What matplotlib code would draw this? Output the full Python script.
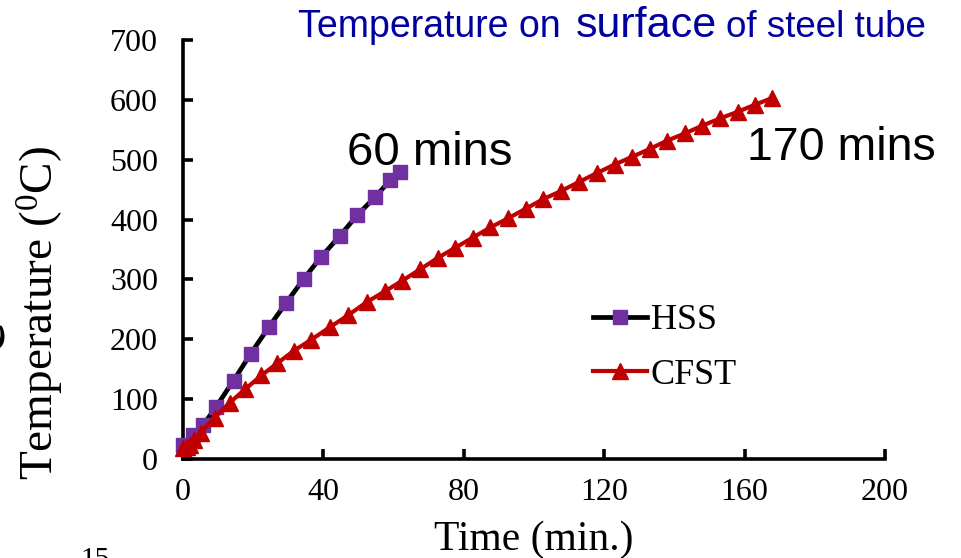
import matplotlib
matplotlib.use("Agg")
import matplotlib.pyplot as plt

# ---------------- data ----------------
hss_time = [0, 2.9, 5.8, 9.4, 14.4, 19.3, 24.4, 29.4, 34.4, 39.4, 44.7, 49.6, 54.6, 59.1, 61.8]
hss_temp = [23, 40, 57, 87, 131, 176, 220, 261, 301, 338, 373, 407, 437, 466, 480]

cfst_time = [0, 1, 2, 3, 5, 9, 13.3, 17.8, 22.3, 26.9, 31.6, 36.6, 41.8, 47, 52.3, 57.5,
             62.5, 67.6, 72.6, 77.6, 82.6, 87.6, 92.6, 97.6, 102.6, 107.8, 112.9, 118,
             123, 128, 133, 138, 143, 148, 153, 158, 163, 167.8]
cfst_temp = [18, 20, 24, 31, 44, 69, 94, 117, 139.5, 160, 181, 199.5, 220, 240, 262, 280,
             298, 317, 336, 353, 370, 387, 402, 418, 434, 448, 463, 478,
             492, 505, 518, 532, 544, 557, 569, 580, 592, 603]

x_ticks = [0, 40, 80, 120, 160, 200]
y_ticks = [0, 100, 200, 300, 400, 500, 600, 700]
series_labels = ["HSS", "CFST"]

# ---------------- figure ----------------
W, H = 961, 558
plt.rcParams['mathtext.fontset'] = 'stix'
serif = ['Liberation Serif', 'DejaVu Serif']
sans = ['Liberation Sans', 'DejaVu Sans']

fig = plt.figure(figsize=(W / 100, H / 100), dpi=100)
ax = fig.add_axes([183 / W, 99 / H, 702 / W, 419 / H])

ax.plot(hss_time, hss_temp, color='black', lw=3.4, marker='s', ms=10.5,
        mfc='#7030A0', mec='#7030A0', label=series_labels[0], clip_on=False, zorder=3)
ax.plot(cfst_time, cfst_temp, color='#C00000', lw=3.0, marker='^', ms=11,
        mfc='#C00000', mec='#C00000', label=series_labels[1], clip_on=False, zorder=4)

ax.set_xlim(0, 200)
ax.set_ylim(0, 700)
ax.set_xticks(x_ticks)
ax.set_yticks(y_ticks)
ax.set_xticklabels([str(v) for v in x_ticks], fontfamily=serif, fontsize=23)
ax.set_yticklabels([str(v) for v in y_ticks], fontfamily=serif, fontsize=23)

for s in ['top', 'right']:
    ax.spines[s].set_visible(False)
for s in ['left', 'bottom']:
    ax.spines[s].set_linewidth(2.6)
    ax.spines[s].set_color('black')
ax.tick_params(axis='both', direction='in', length=7, width=2.6, color='black')
ax.tick_params(axis='y', pad=18)
ax.tick_params(axis='x', pad=14)

# axis labels
fig.text(41 / W, 1 - 313 / H, r'Temperature ($\mathregular{^0}$C)', rotation=90,
         ha='center', va='center', fontsize=34, fontfamily=serif)
fig.text(534 / W, 1 - 550 / H, 'Time (min.)', ha='center', va='baseline',
         fontsize=30, fontfamily=serif)

# title (mixed sizes)
title_color = '#0000A0'
fig.text(298 / W, 1 - 36.7 / H, 'Temperature on', ha='left', va='baseline',
         fontsize=27, fontfamily=sans, color=title_color)
fig.text(576 / W, 1 - 36.7 / H, 'surface', ha='left', va='baseline',
         fontsize=31, fontfamily=sans, color=title_color)
fig.text(726 / W, 1 - 36.7 / H, 'of steel tube', ha='left', va='baseline',
         fontsize=26.5, fontfamily=sans, color=title_color)

# annotations
fig.text(347 / W, 1 - 165 / H, '60 mins', ha='left', va='baseline',
         fontsize=34, fontfamily=sans, color='black')
fig.text(747 / W, 1 - 160 / H, '170 mins', ha='left', va='baseline',
         fontsize=33.5, fontfamily=sans, color='black')

# cropped fragments from the source slide
fig.text(17 / W, 1 - 335 / H, 'e', rotation=90, ha='right', va='center',
         fontsize=52, fontfamily=serif, color='black')
fig.text(80 / W, 1 - 567 / H, '15', ha='left', va='baseline',
         fontsize=21, fontfamily=serif, color='black')

# legend
leg = fig.legend(loc='center left', bbox_to_anchor=(593 / W, 1 - 348 / H),
                 frameon=False, numpoints=1, handlelength=1.5, handletextpad=0.1,
                 labelspacing=0.6, borderpad=0, borderaxespad=0,
                 prop={'family': serif, 'size': 26})

fig.savefig('out.png', dpi=100)
